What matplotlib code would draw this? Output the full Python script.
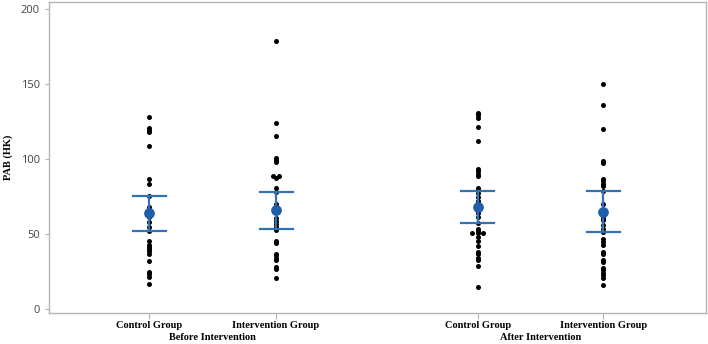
import numpy as np
import matplotlib.pyplot as plt

# values (PAB in HK)
ctrl_before = [128.1, 120.4, 119.1, 117.8, 108.6, 86.8, 83.1, 75.4, 68.2, 66.0, 61.0,
               57.9, 54.6, 52.0, 45.0, 42.8, 41.0, 39.7, 38.4, 36.6, 31.8, 24.6, 23.0,
               20.9, 16.4]
int_before = [179.2, 124.3, 115.3, 100.7, 99.3, 98.0, 88.6, 88.6, 87.0, 80.5, 78.0,
              70.0, 60.7, 58.6, 56.4, 54.2, 52.4, 45.4, 43.6, 36.7, 35.5, 34.0, 32.7,
              27.9, 26.1, 20.2]
ctrl_after = [130.5, 129.2, 127.6, 121.2, 112.3, 93.2, 91.9, 90.1, 88.4, 80.9, 79.6,
              77.0, 74.4, 71.8, 69.5, 64.0, 61.2, 57.2, 53.0, 52.0, 50.2, 50.2, 50.2,
              47.6, 45.4, 41.6, 37.7, 36.6, 34.0, 32.6, 28.1, 14.7]
int_after = [150.0, 136.4, 120.0, 98.4, 97.1, 86.6, 85.3, 83.5, 81.8, 78.3, 70.0,
             60.7, 59.0, 55.9, 53.1, 50.9, 46.5, 44.3, 42.7, 37.7, 36.2, 32.6, 30.8,
             27.4, 25.6, 24.0, 22.4, 20.2, 15.4]

groups = [ctrl_before, int_before, ctrl_after, int_after]
means = [63.6, 65.8, 67.7, 64.7]
ci_low = [52.0, 53.3, 57.2, 50.9]
ci_high = [75.4, 78.2, 78.3, 78.3]
cat_labels = ["Control Group", "Intervention Group", "Control Group", "Intervention Group"]
period_labels = ["Before Intervention", "After Intervention"]

xpos = [0, 1, 2.59, 3.58]
gray = "#b4b4b4"
blue = "#1f5ea8"
line_blue = "#2f73b5"

fig = plt.figure(figsize=(7.08, 3.44), dpi=100)
ax = fig.add_axes([49 / 708, 31 / 344, 657 / 708, 311 / 344])

for x, vals in zip(xpos, groups):
    vals = np.array(vals)
    xs = np.full(len(vals), float(x))
    # spread identical values side by side
    for v in np.unique(vals):
        idx = np.where(vals == v)[0]
        if len(idx) > 1:
            xs[idx] = x + (np.arange(len(idx)) - (len(idx) - 1) / 2) * 0.045
    ax.scatter(xs, vals, s=13, color="black", zorder=2, linewidths=0)

for x, m, lo, hi in zip(xpos, means, ci_low, ci_high):
    ax.plot([x, x], [lo, hi], color=line_blue, lw=1.6, zorder=3)
    ax.plot([x - 0.13, x + 0.13], [lo, lo], color=line_blue, lw=1.6, zorder=3)
    ax.plot([x - 0.13, x + 0.13], [hi, hi], color=line_blue, lw=1.6, zorder=3)
    ax.scatter([x], [m], s=60, color=blue, zorder=4, linewidths=0)

ax.set_xlim(-0.79, 4.39)
ax.set_ylim(-3, 205)
ax.set_yticks([0, 50, 100, 150, 200])
ax.set_xticks(xpos)
ax.set_xticklabels(cat_labels, family="Liberation Serif", fontweight="bold", fontsize=7.5)
ax.tick_params(axis="y", labelsize=8, colors=gray, labelcolor="#444444", length=3, width=0.8)
ax.tick_params(axis="x", colors=gray, labelcolor="black", length=4, width=0.8, pad=2)
for lab in ax.get_yticklabels():
    lab.set_family("Open Sans")
for s in ax.spines.values():
    s.set_color(gray)
    s.set_linewidth(1.0)

ax.set_ylabel("PAB (HK)", family="Liberation Serif", fontweight="bold", fontsize=7.5, labelpad=6)

centers = [(xpos[0] + xpos[1]) / 2, (xpos[2] + xpos[3]) / 2]
for c, t in zip(centers, period_labels):
    ax.text(c, -0.08, t, transform=ax.get_xaxis_transform(), ha="center", va="center",
            family="Liberation Serif", fontweight="bold", fontsize=7.5)

fig.savefig("out.png", dpi=100)
